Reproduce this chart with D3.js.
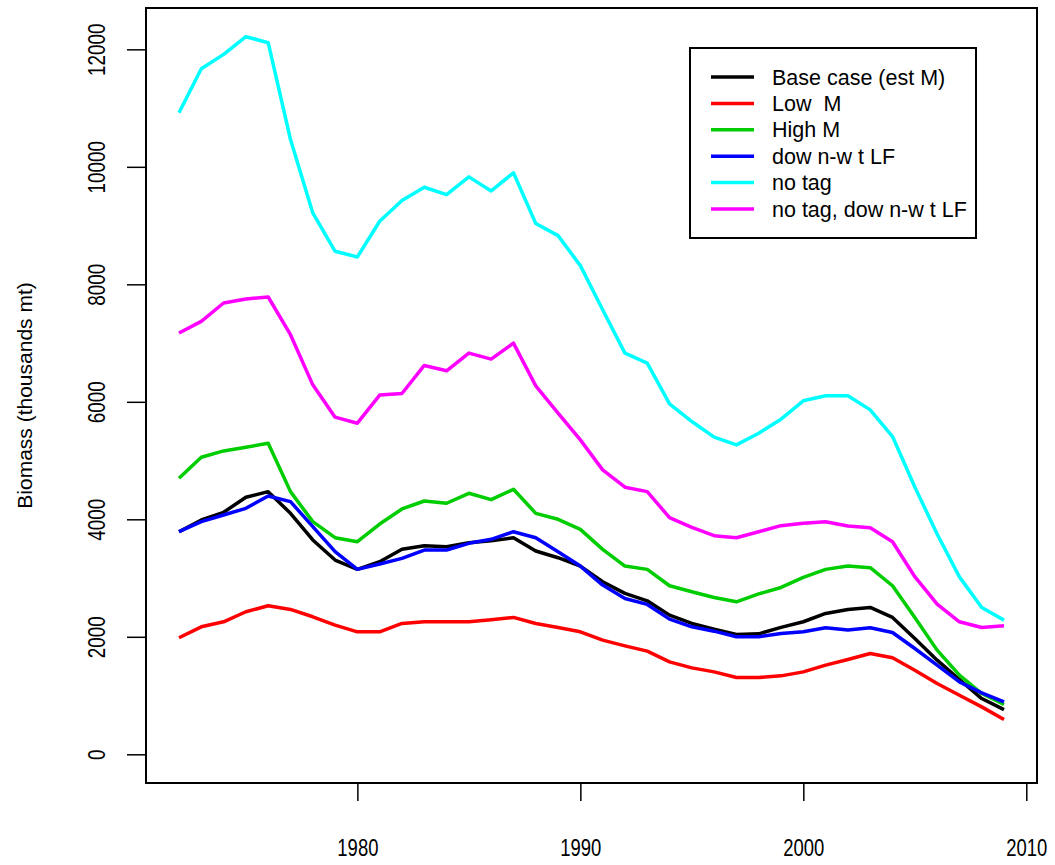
<!DOCTYPE html>
<html>
<head>
<meta charset="utf-8">
<script src="https://cdn.jsdelivr.net/npm/d3@7"></script>
<style>
    body { margin: 0; background: #fff; }
    svg { display: block; font-family: "Liberation Sans", Arial, sans-serif; }
    .frame { fill: none; stroke: #000; stroke-width: 2; }
    .series { fill: none; stroke-width: 3.5; stroke-linejoin: round; }
    .axis path { display: none; }
    .axis line { stroke: #000; stroke-width: 1.5; }
    .axis text { font-size: 21px; fill: #000; }
</style>
</head>
<body>
<svg id="chart" width="1055" height="865"></svg>
<script>
// --- データ (1972-2009) ---
const years = d3.range(1972, 2010);

const baseCase = [3789, 3988, 4119, 4375, 4471, 4102, 3648, 3307, 3148, 3278,
    3489, 3551, 3534, 3602, 3633, 3687, 3460, 3346, 3204, 2937,
    2739, 2613, 2369, 2227, 2131, 2040, 2050, 2160, 2256, 2398,
    2466, 2500, 2330, 1972, 1602, 1273, 949, 761];
const lowM = [1983, 2170, 2255, 2426, 2528, 2466, 2341, 2199, 2085, 2085,
    2227, 2255, 2255, 2255, 2290, 2330, 2227, 2159, 2085, 1943,
    1846, 1756, 1574, 1471, 1403, 1307, 1307, 1335, 1403, 1517,
    1614, 1716, 1642, 1432, 1205, 1006, 807, 591];
const highM = [4699, 5057, 5164, 5227, 5295, 4471, 3960, 3687, 3619, 3920,
    4176, 4312, 4273, 4443, 4335, 4511, 4102, 4000, 3829, 3489,
    3204, 3148, 2869, 2767, 2670, 2596, 2730, 2840, 3011, 3148,
    3204, 3176, 2869, 2330, 1773, 1347, 1034, 847];
const downWtLF = [3789, 3960, 4074, 4187, 4397, 4301, 3875, 3449, 3148, 3238,
    3335, 3477, 3477, 3591, 3659, 3789, 3687, 3449, 3204, 2880,
    2653, 2551, 2301, 2170, 2096, 2000, 2000, 2057, 2085, 2153,
    2114, 2153, 2074, 1801, 1517, 1233, 1045, 892];
const noTag = [10920, 11670, 11914, 12215, 12113, 10465, 9216, 8562, 8466, 9073,
    9426, 9653, 9528, 9829, 9590, 9898, 9034, 8829, 8318, 7568,
    6829, 6659, 5966, 5664, 5398, 5267, 5466, 5705, 6017, 6102,
    6102, 5863, 5409, 4550, 3750, 3020, 2500, 2284];
const noTagDownWt = [7171, 7369, 7682, 7750, 7784, 7142, 6289, 5739, 5636, 6114,
    6142, 6619, 6528, 6829, 6727, 7000, 6272, 5807, 5352, 4841,
    4546, 4471, 4028, 3864, 3721, 3687, 3789, 3892, 3932, 3960,
    3886, 3858, 3619, 3023, 2557, 2256, 2159, 2187];

const seriesNames = ["Base case (est M)", "Low  M", "High M", "dow n-w t LF", "no tag", "no tag, dow n-w t LF"];
const seriesValues = [baseCase, lowM, highM, downWtLF, noTag, noTagDownWt];
const seriesColors = ["#000000", "#ff0000", "#00cd00", "#0000ff", "#00ffff", "#ff00ff"];

const xTicks = [1980, 1990, 2000, 2010];
const yTicks = [0, 2000, 4000, 6000, 8000, 10000, 12000];
const yTitle = "Biomass (thousands mt)";

// --- レイアウト ---
const box = { left: 146, right: 1037, top: 8, bottom: 783 };
const svg = d3.select("#chart");

// R風に範囲を4%広げる
const xPad = (d3.max(years) - d3.min(years)) * 0.04;
const x = d3.scaleLinear()
    .domain([d3.min(years) - xPad, d3.max(years) + xPad])
    .range([box.left, box.right]);

const yMax = d3.max(seriesValues, s => d3.max(s));
const yPad = yMax * 0.04;
const y = d3.scaleLinear()
    .domain([-yPad, yMax + yPad])
    .range([box.bottom, box.top]);

// 線
const line = d3.line()
    .x((d, i) => x(years[i]))
    .y(d => y(d));

svg.selectAll(".series").data(seriesValues).enter().append("path")
    .attr("class", "series")
    .attr("stroke", (d, i) => seriesColors[i])
    .attr("d", line);

// 枠
svg.append("rect").attr("class", "frame")
    .attr("x", box.left).attr("y", box.top)
    .attr("width", box.right - box.left).attr("height", box.bottom - box.top);

// X軸 (目盛りラベルは少し縦長に)
svg.append("g").attr("class", "axis")
    .attr("transform", `translate(0,${box.bottom})`)
    .call(d3.axisBottom(x).tickValues(xTicks).tickFormat(d3.format("d")).tickSize(18))
    .selectAll("text")
    .attr("y", 0).attr("dy", "0.35em")
    .attr("transform", "translate(0,65) scale(0.88,1.12)");

// Y軸 (ラベルは縦向き)
svg.append("g").attr("class", "axis")
    .attr("transform", `translate(${box.left},0)`)
    .call(d3.axisLeft(y).tickValues(yTicks).tickFormat(d3.format("d")).tickSize(19))
    .selectAll("text")
    .attr("transform", "translate(-49,0) rotate(-90) scale(0.9,1.1)")
    .attr("x", 0).attr("y", 0).attr("dy", "0.35em")
    .style("text-anchor", "middle");

svg.append("text")
    .attr("transform", `translate(25,${(box.top + box.bottom) / 2}) rotate(-90)`)
    .attr("dy", "0.35em")
    .style("text-anchor", "middle")
    .style("font-size", "21px")
    .text(yTitle);

// 凡例
const legend = { x: 690, y: 48, w: 286, h: 190, first: 77, step: 26.4 };
svg.append("rect").attr("class", "frame")
    .attr("x", legend.x).attr("y", legend.y)
    .attr("width", legend.w).attr("height", legend.h)
    .attr("fill", "#fff");

const item = svg.selectAll(".legend-item").data(seriesNames).enter().append("g")
    .attr("class", "legend-item")
    .attr("transform", (d, i) => `translate(0,${legend.first + i * legend.step})`);

item.append("line")
    .attr("x1", 711).attr("x2", 754)
    .attr("stroke", (d, i) => seriesColors[i])
    .attr("stroke-width", 3.5);

item.append("text")
    .attr("x", 772).attr("dy", "0.35em")
    .style("font-size", "21.5px")
    .style("white-space", "pre")
    .text(d => d);
</script>
</body>
</html>
